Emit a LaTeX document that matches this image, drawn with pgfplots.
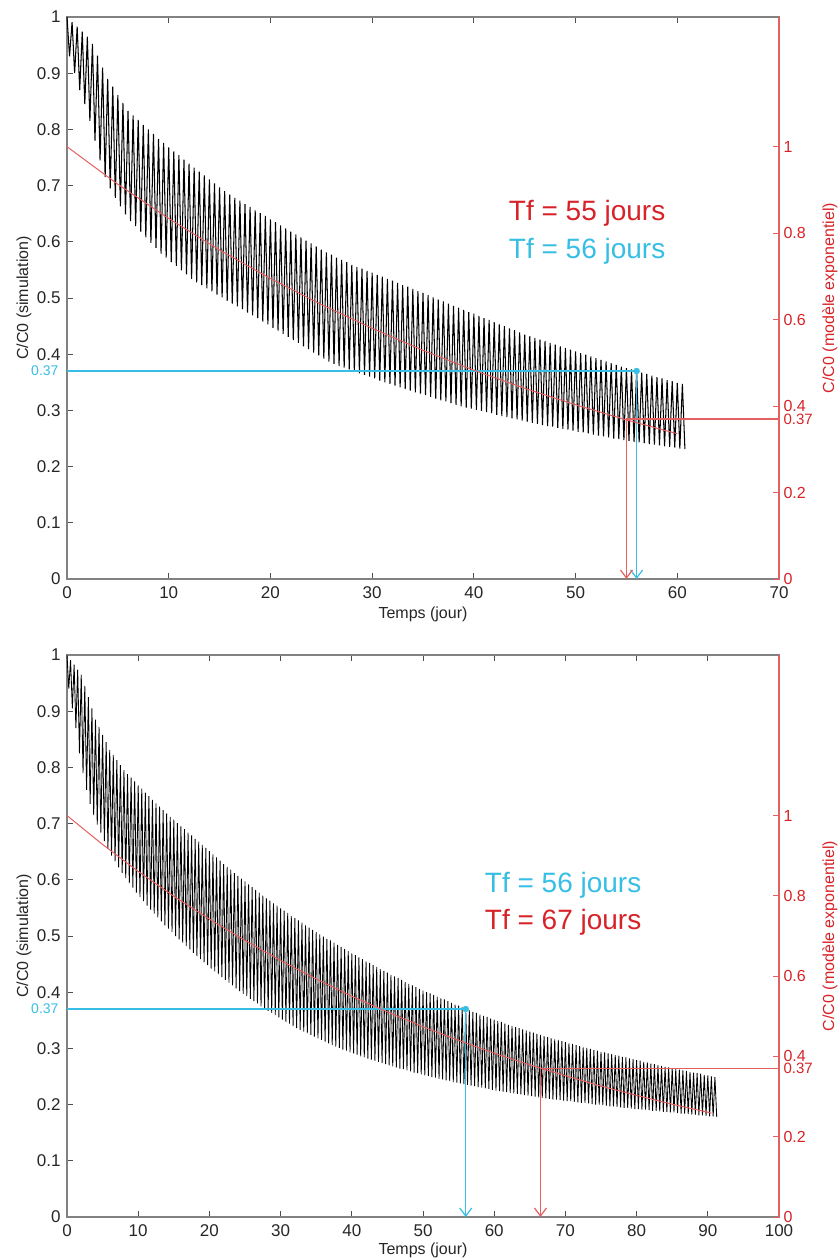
\documentclass[border=0pt]{standalone}
\usepackage{pgfplots}
\pgfplotsset{compat=1.18}
\usepackage{fontspec}
\setmainfont{Liberation Sans}
\usetikzlibrary{arrows.meta}
\definecolor{cy}{RGB}{55,190,228}
\definecolor{rd}{RGB}{215,35,40}
\definecolor{rl}{RGB}{228,95,95}
\definecolor{ax}{RGB}{130,130,130}
\newcommand\fs[1]{\fontsize{#1}{#1}\selectfont}
\pgfplotsset{
  base/.style={
    scale only axis, width=712pt, height=562pt, anchor=south west,
    /pgf/number format/assume math mode=true,
    tick align=inside, major tick length=6pt, clip=false,
  },
  leftax/.style={
    base, ymin=0, ymax=1,
    ytick={0,0.1,0.2,0.3,0.4,0.5,0.6,0.7,0.8,0.9,1},
    ytick pos=left,
    axis line style={ax, line width=1.4pt},
    tick style={ax!60!black, line width=0.8pt},
    tick label style={font=\fs{17}, text=black!85},
    yticklabel style={xshift=-3pt},
    xticklabel style={yshift=-4pt},
    xlabel={Temps (jour)}, ylabel={C/C0 (simulation)},
    label style={font=\fs{16}, text=black!85},
    ylabel style={at={(axis description cs:-0.0604,0.5)}, anchor=center},
    extra y ticks={0.37}, extra y tick labels={0.37},
    extra y tick style={major tick length=0pt, yticklabel style={text=cy, font=\fs{14}, xshift=-2pt}},
  },
  rightax/.style={
    base, axis x line=none, axis y line*=right, ymin=0,
    ytick={0,0.2,0.4,0.6,0.8,1},
    y axis line style={rl, line width=1.4pt},
    ytick style={rl, line width=0.8pt},
    yticklabel style={text=rd, font=\fs{16}, xshift=1pt},
    extra y ticks={0.37}, extra y tick labels={0.37},
    extra y tick style={major tick length=0pt, yticklabel style={text=rd, font=\fs{15}}},
  },
  arr/.style={-{Straight Barb[length=8pt,width=12pt,line width=1.2pt]}},
}
\begin{document}
\begin{tikzpicture}
\path[use as bounding box] (0,0) rectangle (840pt,1260pt);
% ---------------- TOP PANEL ----------------
\begin{axis}[leftax, at={(67pt,681pt)}, xmin=0, xmax=70, xtick={0,10,20,30,40,50,60,70},
  xlabel style={at={(axis description cs:0.5,-0.0623)}, anchor=center}]
\addplot[black, line width=1.05pt] coordinates {(0,1.000)(0.25,0.930)(0.5,0.991)(0.75,0.900)(1,0.983)(1.25,0.870)(1.5,0.974)(1.75,0.845)(2,0.965)(2.25,0.815)(2.5,0.952)(2.75,0.780)(3,0.931)(3.25,0.745)(3.5,0.910)(3.75,0.715)(4,0.890)(4.25,0.695)(4.5,0.876)(4.75,0.678)(5,0.861)(5.25,0.663)(5.5,0.847)(5.75,0.649)(6,0.833)(6.25,0.637)(6.5,0.825)(6.75,0.628)(7,0.817)(7.25,0.618)(7.5,0.808)(7.75,0.608)(8,0.800)(8.25,0.598)(8.5,0.792)(8.75,0.589)(9,0.783)(9.25,0.579)(9.5,0.776)(9.75,0.572)(10,0.768)(10.25,0.564)(10.5,0.761)(10.75,0.557)(11,0.754)(11.25,0.549)(11.5,0.746)(11.75,0.542)(12,0.739)(12.25,0.534)(12.5,0.732)(12.75,0.528)(13,0.725)(13.25,0.523)(13.5,0.718)(13.75,0.517)(14,0.711)(14.25,0.512)(14.5,0.704)(14.75,0.506)(15,0.697)(15.25,0.501)(15.5,0.690)(15.75,0.495)(16,0.684)(16.25,0.490)(16.5,0.678)(16.75,0.485)(17,0.673)(17.25,0.480)(17.5,0.667)(17.75,0.474)(18,0.662)(18.25,0.469)(18.5,0.656)(18.75,0.464)(19,0.651)(19.25,0.458)(19.5,0.646)(19.75,0.453)(20,0.640)(20.25,0.447)(20.5,0.635)(20.75,0.442)(21,0.629)(21.25,0.436)(21.5,0.624)(21.75,0.431)(22,0.618)(22.25,0.425)(22.5,0.613)(22.75,0.420)(23,0.608)(23.25,0.414)(23.5,0.602)(23.75,0.409)(24,0.597)(24.25,0.403)(24.5,0.592)(24.75,0.398)(25,0.586)(25.25,0.392)(25.5,0.581)(25.75,0.387)(26,0.577)(26.25,0.383)(26.5,0.572)(26.75,0.379)(27,0.568)(27.25,0.376)(27.5,0.564)(27.75,0.373)(28,0.559)(28.25,0.370)(28.5,0.555)(28.75,0.366)(29,0.552)(29.25,0.363)(29.5,0.548)(29.75,0.360)(30,0.545)(30.25,0.357)(30.5,0.541)(30.75,0.353)(31,0.538)(31.25,0.350)(31.5,0.534)(31.75,0.347)(32,0.531)(32.25,0.344)(32.5,0.527)(32.75,0.341)(33,0.523)(33.25,0.338)(33.5,0.520)(33.75,0.335)(34,0.516)(34.25,0.332)(34.5,0.512)(34.75,0.330)(35,0.509)(35.25,0.327)(35.5,0.505)(35.75,0.324)(36,0.501)(36.25,0.321)(36.5,0.497)(36.75,0.318)(37,0.494)(37.25,0.316)(37.5,0.490)(37.75,0.313)(38,0.486)(38.25,0.310)(38.5,0.483)(38.75,0.307)(39,0.479)(39.25,0.305)(39.5,0.475)(39.75,0.303)(40,0.472)(40.25,0.301)(40.5,0.468)(40.75,0.299)(41,0.464)(41.25,0.297)(41.5,0.461)(41.75,0.295)(42,0.457)(42.25,0.292)(42.5,0.453)(42.75,0.290)(43,0.450)(43.25,0.288)(43.5,0.446)(43.75,0.286)(44,0.443)(44.25,0.284)(44.5,0.439)(44.75,0.282)(45,0.435)(45.25,0.280)(45.5,0.432)(45.75,0.278)(46,0.429)(46.25,0.276)(46.5,0.426)(46.75,0.274)(47,0.423)(47.25,0.272)(47.5,0.420)(47.75,0.271)(48,0.417)(48.25,0.269)(48.5,0.414)(48.75,0.267)(49,0.411)(49.25,0.266)(49.5,0.408)(49.75,0.264)(50,0.405)(50.25,0.262)(50.5,0.402)(50.75,0.261)(51,0.399)(51.25,0.259)(51.5,0.396)(51.75,0.257)(52,0.393)(52.25,0.255)(52.5,0.390)(52.75,0.254)(53,0.387)(53.25,0.252)(53.5,0.384)(53.75,0.250)(54,0.381)(54.25,0.249)(54.5,0.378)(54.75,0.247)(55,0.375)(55.25,0.246)(55.5,0.373)(55.75,0.244)(56,0.370)(56.25,0.243)(56.5,0.367)(56.75,0.242)(57,0.365)(57.25,0.240)(57.5,0.362)(57.75,0.239)(58,0.359)(58.25,0.238)(58.5,0.357)(58.75,0.236)(59,0.354)(59.25,0.235)(59.5,0.352)(59.75,0.234)(60,0.349)(60.25,0.232)(60.5,0.347)(60.75,0.231)};
\addplot[cy, line width=1.3pt] coordinates {(0,0.37)(56,0.37)};
\addplot[cy, line width=1.3pt, arr] coordinates {(56,0.37)(56,0)};
\addplot[cy, only marks, mark=*, mark size=3pt] coordinates {(56,0.37)};
\node[anchor=west, text=rd, font=\fs{28}] at (axis cs:43.1,0.651) {Tf = 55 jours};
\node[anchor=west, text=cy, font=\fs{28}] at (axis cs:43.1,0.584) {Tf = 56 jours};
\end{axis}
\begin{axis}[rightax, at={(67pt,681pt)}, xmin=0, xmax=70, ymax=1.3]
\addplot[rl, line width=1pt] coordinates {(0,1.000)(5,0.913)(10,0.834)(15,0.761)(20,0.695)(25,0.635)(30,0.580)(35,0.529)(40,0.483)(45,0.441)(50,0.403)(55,0.368)(60,0.336)};
\addplot[rl, line width=1.2pt] coordinates {(55,0.37)(70,0.37)};
\addplot[rl, line width=1.2pt, arr] coordinates {(55,0.37)(55,0)};
\node[rotate=90, text=rd, font=\fs{16}] at (axis description cs:1.0716,0.5) {C/C0 (modèle exponentiel)};
\end{axis}
% ---------------- BOTTOM PANEL ----------------
\begin{axis}[leftax, at={(67pt,43pt)}, xmin=0, xmax=100, xtick={0,10,20,30,40,50,60,70,80,90,100},
  xlabel style={at={(axis description cs:0.5,-0.0587)}, anchor=center}]
\addplot[black, line width=0.85pt] coordinates {(0,1.000)(0.25,0.940)(0.5,0.991)(0.75,0.905)(1,0.983)(1.25,0.870)(1.5,0.974)(1.75,0.825)(2,0.965)(2.25,0.790)(2.5,0.945)(2.75,0.760)(3,0.925)(3.25,0.735)(3.5,0.905)(3.75,0.715)(4,0.885)(4.25,0.698)(4.5,0.872)(4.75,0.684)(5,0.858)(5.25,0.669)(5.5,0.845)(5.75,0.655)(6,0.831)(6.25,0.643)(6.5,0.822)(6.75,0.633)(7,0.813)(7.25,0.622)(7.5,0.804)(7.75,0.612)(8,0.795)(8.25,0.603)(8.5,0.788)(8.75,0.594)(9,0.782)(9.25,0.586)(9.5,0.775)(9.75,0.577)(10,0.768)(10.25,0.569)(10.5,0.762)(10.75,0.562)(11,0.755)(11.25,0.554)(11.5,0.749)(11.75,0.547)(12,0.742)(12.25,0.540)(12.5,0.736)(12.75,0.533)(13,0.730)(13.25,0.526)(13.5,0.724)(13.75,0.519)(14,0.718)(14.25,0.513)(14.5,0.712)(14.75,0.507)(15,0.707)(15.25,0.500)(15.5,0.701)(15.75,0.494)(16,0.695)(16.25,0.488)(16.5,0.690)(16.75,0.482)(17,0.684)(17.25,0.476)(17.5,0.679)(17.75,0.470)(18,0.673)(18.25,0.464)(18.5,0.668)(18.75,0.459)(19,0.662)(19.25,0.453)(19.5,0.657)(19.75,0.448)(20,0.651)(20.25,0.442)(20.5,0.645)(20.75,0.437)(21,0.640)(21.25,0.432)(21.5,0.634)(21.75,0.427)(22,0.628)(22.25,0.422)(22.5,0.623)(22.75,0.417)(23,0.618)(23.25,0.412)(23.5,0.612)(23.75,0.407)(24,0.607)(24.25,0.402)(24.5,0.602)(24.75,0.397)(25,0.597)(25.25,0.393)(25.5,0.592)(25.75,0.388)(26,0.587)(26.25,0.384)(26.5,0.582)(26.75,0.380)(27,0.577)(27.25,0.375)(27.5,0.572)(27.75,0.371)(28,0.567)(28.25,0.367)(28.5,0.563)(28.75,0.363)(29,0.558)(29.25,0.359)(29.5,0.554)(29.75,0.355)(30,0.549)(30.25,0.351)(30.5,0.545)(30.75,0.347)(31,0.541)(31.25,0.344)(31.5,0.536)(31.75,0.340)(32,0.532)(32.25,0.336)(32.5,0.528)(32.75,0.333)(33,0.524)(33.25,0.330)(33.5,0.519)(33.75,0.327)(34,0.515)(34.25,0.324)(34.5,0.511)(34.75,0.321)(35,0.507)(35.25,0.318)(35.5,0.503)(35.75,0.315)(36,0.499)(36.25,0.312)(36.5,0.495)(36.75,0.309)(37,0.492)(37.25,0.306)(37.5,0.488)(37.75,0.303)(38,0.484)(38.25,0.301)(38.5,0.480)(38.75,0.298)(39,0.477)(39.25,0.296)(39.5,0.473)(39.75,0.293)(40,0.469)(40.25,0.291)(40.5,0.466)(40.75,0.289)(41,0.462)(41.25,0.286)(41.5,0.459)(41.75,0.284)(42,0.455)(42.25,0.282)(42.5,0.452)(42.75,0.280)(43,0.448)(43.25,0.278)(43.5,0.445)(43.75,0.276)(44,0.441)(44.25,0.274)(44.5,0.438)(44.75,0.272)(45,0.435)(45.25,0.270)(45.5,0.431)(45.75,0.268)(46,0.428)(46.25,0.266)(46.5,0.425)(46.75,0.264)(47,0.422)(47.25,0.263)(47.5,0.418)(47.75,0.261)(48,0.415)(48.25,0.259)(48.5,0.412)(48.75,0.257)(49,0.409)(49.25,0.256)(49.5,0.406)(49.75,0.254)(50,0.403)(50.25,0.252)(50.5,0.400)(50.75,0.251)(51,0.398)(51.25,0.249)(51.5,0.395)(51.75,0.248)(52,0.392)(52.25,0.246)(52.5,0.389)(52.75,0.245)(53,0.387)(53.25,0.243)(53.5,0.384)(53.75,0.242)(54,0.381)(54.25,0.240)(54.5,0.378)(54.75,0.239)(55,0.376)(55.25,0.238)(55.5,0.373)(55.75,0.236)(56,0.370)(56.25,0.235)(56.5,0.368)(56.75,0.234)(57,0.365)(57.25,0.233)(57.5,0.363)(57.75,0.231)(58,0.360)(58.25,0.230)(58.5,0.358)(58.75,0.229)(59,0.356)(59.25,0.228)(59.5,0.353)(59.75,0.226)(60,0.351)(60.25,0.225)(60.5,0.349)(60.75,0.224)(61,0.347)(61.25,0.223)(61.5,0.344)(61.75,0.222)(62,0.342)(62.25,0.221)(62.5,0.340)(62.75,0.220)(63,0.338)(63.25,0.219)(63.5,0.336)(63.75,0.218)(64,0.334)(64.25,0.217)(64.5,0.332)(64.75,0.216)(65,0.330)(65.25,0.215)(65.5,0.328)(65.75,0.214)(66,0.326)(66.25,0.213)(66.5,0.324)(66.75,0.212)(67,0.322)(67.25,0.211)(67.5,0.320)(67.75,0.210)(68,0.318)(68.25,0.209)(68.5,0.316)(68.75,0.209)(69,0.315)(69.25,0.208)(69.5,0.313)(69.75,0.207)(70,0.311)(70.25,0.206)(70.5,0.309)(70.75,0.206)(71,0.308)(71.25,0.205)(71.5,0.306)(71.75,0.204)(72,0.304)(72.25,0.203)(72.5,0.302)(72.75,0.203)(73,0.301)(73.25,0.202)(73.5,0.299)(73.75,0.201)(74,0.297)(74.25,0.200)(74.5,0.296)(74.75,0.200)(75,0.294)(75.25,0.199)(75.5,0.293)(75.75,0.198)(76,0.291)(76.25,0.197)(76.5,0.290)(76.75,0.197)(77,0.288)(77.25,0.196)(77.5,0.287)(77.75,0.195)(78,0.285)(78.25,0.194)(78.5,0.284)(78.75,0.194)(79,0.282)(79.25,0.193)(79.5,0.281)(79.75,0.192)(80,0.279)(80.25,0.192)(80.5,0.278)(80.75,0.191)(81,0.276)(81.25,0.191)(81.5,0.275)(81.75,0.190)(82,0.273)(82.25,0.189)(82.5,0.272)(82.75,0.189)(83,0.270)(83.25,0.188)(83.5,0.269)(83.75,0.187)(84,0.267)(84.25,0.187)(84.5,0.266)(84.75,0.186)(85,0.265)(85.25,0.186)(85.5,0.263)(85.75,0.185)(86,0.262)(86.25,0.184)(86.5,0.261)(86.75,0.184)(87,0.260)(87.25,0.183)(87.5,0.258)(87.75,0.182)(88,0.257)(88.25,0.182)(88.5,0.256)(88.75,0.181)(89,0.255)(89.25,0.181)(89.5,0.253)(89.75,0.180)(90,0.252)(90.25,0.179)(90.5,0.250)(90.75,0.179)(91,0.249)(91.25,0.178)};
\addplot[cy, line width=1.3pt] coordinates {(0,0.37)(56,0.37)};
\addplot[cy, line width=1.3pt, arr] coordinates {(56,0.37)(56,0)};
\addplot[cy, only marks, mark=*, mark size=3pt] coordinates {(56,0.37)};
\node[anchor=west, text=cy, font=\fs{28}] at (axis cs:58.2,0.591) {Tf = 56 jours};
\node[anchor=west, text=rd, font=\fs{28}] at (axis cs:58.2,0.524) {Tf = 67 jours};
\end{axis}
\begin{axis}[rightax, at={(67pt,43pt)}, xmin=0, xmax=100, ymax=1.4]
\addplot[rl, line width=1pt] coordinates {(0,1.000)(5,0.928)(10,0.861)(15,0.799)(20,0.742)(25,0.689)(30,0.639)(35,0.593)(40,0.550)(45,0.511)(50,0.474)(55,0.440)(60,0.408)(65,0.379)(70,0.352)(75,0.326)(80,0.303)(85,0.281)(90,0.261)(90.5,0.259)};
\addplot[rl, line width=1.2pt] coordinates {(66.5,0.37)(100,0.37)};
\addplot[rl, line width=1.2pt, arr] coordinates {(66.5,0.37)(66.5,0)};
\node[rotate=90, text=rd, font=\fs{16}] at (axis description cs:1.0716,0.5) {C/C0 (modèle exponentiel)};
\end{axis}
\end{tikzpicture}
\end{document}
